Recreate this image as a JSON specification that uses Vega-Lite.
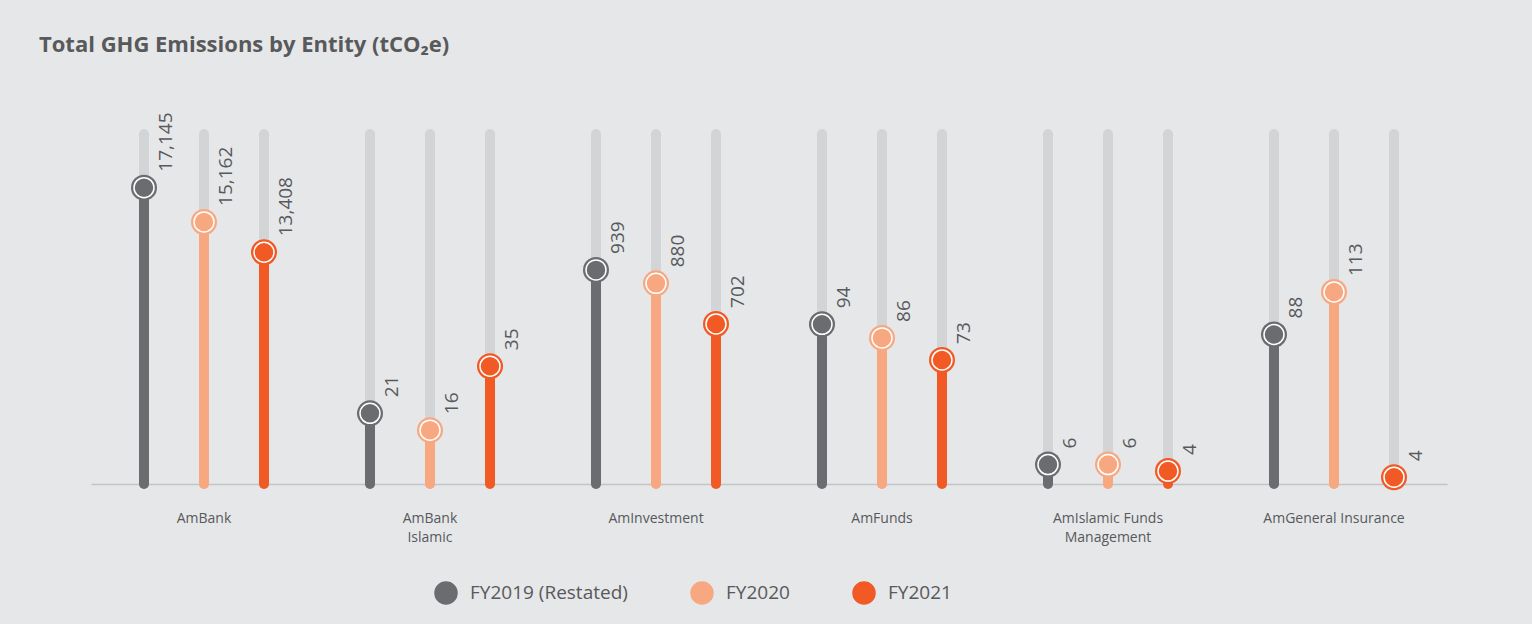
{
  "$schema": "https://vega.github.io/schema/vega-lite/v6.json",
  "autosize": "none",
  "width": 1356,
  "height": 350,
  "padding": {"left": 91, "right": 85, "top": 134, "bottom": 140},
  "background": "#e6e7e9",
  "title": {
    "text": "Total GHG Emissions by Entity (tCO₂e)",
    "anchor": "start",
    "frame": "group",
    "dx": -52,
    "offset": 38,
    "baseline": "alphabetic",
    "font": "Open Sans",
    "fontSize": 22,
    "fontWeight": "bold",
    "color": "#58595b"
  },
  "data": {
    "values": [
      {"entity": "AmBank", "year": "FY2019 (Restated)", "value": 17145},
      {"entity": "AmBank", "year": "FY2020", "value": 15162},
      {"entity": "AmBank", "year": "FY2021", "value": 13408},
      {"entity": "AmBank Islamic", "year": "FY2019 (Restated)", "value": 21},
      {"entity": "AmBank Islamic", "year": "FY2020", "value": 16},
      {"entity": "AmBank Islamic", "year": "FY2021", "value": 35},
      {"entity": "AmInvestment", "year": "FY2019 (Restated)", "value": 939},
      {"entity": "AmInvestment", "year": "FY2020", "value": 880},
      {"entity": "AmInvestment", "year": "FY2021", "value": 702},
      {"entity": "AmFunds", "year": "FY2019 (Restated)", "value": 94},
      {"entity": "AmFunds", "year": "FY2020", "value": 86},
      {"entity": "AmFunds", "year": "FY2021", "value": 73},
      {"entity": "AmIslamic Funds Management", "year": "FY2019 (Restated)", "value": 6},
      {"entity": "AmIslamic Funds Management", "year": "FY2020", "value": 6},
      {"entity": "AmIslamic Funds Management", "year": "FY2021", "value": 4},
      {"entity": "AmGeneral Insurance", "year": "FY2019 (Restated)", "value": 88},
      {"entity": "AmGeneral Insurance", "year": "FY2020", "value": 113},
      {"entity": "AmGeneral Insurance", "year": "FY2021", "value": 4}
    ]
  },
  "encoding": {
    "x": {
      "field": "entity",
      "type": "nominal",
      "sort": ["AmBank", "AmBank Islamic", "AmInvestment", "AmFunds", "AmIslamic Funds Management", "AmGeneral Insurance"],
      "scale": {"paddingInner": 0, "paddingOuter": 0},
      "axis": {
        "title": null,
        "labelAngle": 0,
        "labelExpr": "datum.label === 'AmBank Islamic' ? ['AmBank', 'Islamic'] : datum.label === 'AmIslamic Funds Management' ? ['AmIslamic Funds', 'Management'] : datum.label"
      }
    },
    "xOffset": {
      "field": "year",
      "type": "nominal",
      "sort": ["FY2019 (Restated)", "FY2020", "FY2021"],
      "scale": {"paddingInner": 0, "paddingOuter": 0.3833}
    },
    "color": {
      "field": "year",
      "type": "nominal",
      "sort": ["FY2019 (Restated)", "FY2020", "FY2021"],
      "scale": {"domain": ["FY2019 (Restated)", "FY2020", "FY2021"], "range": ["#6b6c6f", "#f8a880", "#f15a24"]},
      "legend": {
        "title": null, "orient": "none", "legendX": 343, "legendY": 447, "direction": "horizontal",
        "symbolType": "circle", "symbolSize": 484, "symbolOpacity": 1, "symbolStrokeColor": "white", "symbolStrokeWidth": 1.5,
        "labelFont": "Open Sans", "labelFontSize": 19, "labelColor": "#58595b", "labelOffset": 12,
        "columnPadding": 60, "padding": 0,
        "encode": {"symbols": {"update": {
          "fill": {"scale": "color", "field": "value"},
          "stroke": {"value": "white"},
          "strokeWidth": {"value": 1.5},
          "opacity": {"value": 1}
        }}}
      }
    }
  },
  "resolve": {"scale": {"y": "independent"}},
  "layer": [
    {
      "transform": [{"filter": "datum.entity === 'AmBank'"}],
      "encoding": {"y": {"field": "value", "type": "quantitative", "scale": {"domain": [0, 20250], "nice": false}, "axis": null}},
      "layer": [
        {"mark": {"type": "rule", "strokeWidth": 10, "strokeCap": "round"}, "encoding": {"y": {"datum": 0}, "y2": {"datum": 20250}, "color": {"value": "#d3d4d6"}}},
        {"mark": {"type": "rule", "strokeWidth": 10, "strokeCap": "round"}, "encoding": {"y2": {"datum": 0}}},
        {"mark": {"type": "point", "shape": "circle", "filled": true, "size": 676, "opacity": 1}},
        {"mark": {"type": "point", "shape": "circle", "filled": true, "size": 400, "opacity": 1, "stroke": "white", "strokeWidth": 1.5}},
        {"mark": {"type": "text", "angle": 270, "align": "left", "baseline": "alphabetic", "dx": 16, "dy": 28, "font": "Open Sans", "fontSize": 19},
         "encoding": {"text": {"field": "value", "type": "quantitative", "format": ","}, "color": {"value": "#58595b"}}}
      ]
    },
    {
      "transform": [{"filter": "datum.entity === 'AmBank Islamic'"}],
      "encoding": {"y": {"field": "value", "type": "quantitative", "scale": {"domain": [0, 104], "nice": false}, "axis": null}},
      "layer": [
        {"mark": {"type": "rule", "strokeWidth": 10, "strokeCap": "round"}, "encoding": {"y": {"datum": 0}, "y2": {"datum": 104}, "color": {"value": "#d3d4d6"}}},
        {"mark": {"type": "rule", "strokeWidth": 10, "strokeCap": "round"}, "encoding": {"y2": {"datum": 0}}},
        {"mark": {"type": "point", "shape": "circle", "filled": true, "size": 676, "opacity": 1}},
        {"mark": {"type": "point", "shape": "circle", "filled": true, "size": 400, "opacity": 1, "stroke": "white", "strokeWidth": 1.5}},
        {"mark": {"type": "text", "angle": 270, "align": "left", "baseline": "alphabetic", "dx": 16, "dy": 28, "font": "Open Sans", "fontSize": 19},
         "encoding": {"text": {"field": "value", "type": "quantitative", "format": ","}, "color": {"value": "#58595b"}}}
      ]
    },
    {
      "transform": [{"filter": "datum.entity === 'AmInvestment'"}],
      "encoding": {"y": {"field": "value", "type": "quantitative", "scale": {"domain": [0, 1535], "nice": false}, "axis": null}},
      "layer": [
        {"mark": {"type": "rule", "strokeWidth": 10, "strokeCap": "round"}, "encoding": {"y": {"datum": 0}, "y2": {"datum": 1535}, "color": {"value": "#d3d4d6"}}},
        {"mark": {"type": "rule", "strokeWidth": 10, "strokeCap": "round"}, "encoding": {"y2": {"datum": 0}}},
        {"mark": {"type": "point", "shape": "circle", "filled": true, "size": 676, "opacity": 1}},
        {"mark": {"type": "point", "shape": "circle", "filled": true, "size": 400, "opacity": 1, "stroke": "white", "strokeWidth": 1.5}},
        {"mark": {"type": "text", "angle": 270, "align": "left", "baseline": "alphabetic", "dx": 16, "dy": 28, "font": "Open Sans", "fontSize": 19},
         "encoding": {"text": {"field": "value", "type": "quantitative", "format": ","}, "color": {"value": "#58595b"}}}
      ]
    },
    {
      "transform": [{"filter": "datum.entity === 'AmFunds'"}],
      "encoding": {"y": {"field": "value", "type": "quantitative", "scale": {"domain": [0, 206], "nice": false}, "axis": null}},
      "layer": [
        {"mark": {"type": "rule", "strokeWidth": 10, "strokeCap": "round"}, "encoding": {"y": {"datum": 0}, "y2": {"datum": 206}, "color": {"value": "#d3d4d6"}}},
        {"mark": {"type": "rule", "strokeWidth": 10, "strokeCap": "round"}, "encoding": {"y2": {"datum": 0}}},
        {"mark": {"type": "point", "shape": "circle", "filled": true, "size": 676, "opacity": 1}},
        {"mark": {"type": "point", "shape": "circle", "filled": true, "size": 400, "opacity": 1, "stroke": "white", "strokeWidth": 1.5}},
        {"mark": {"type": "text", "angle": 270, "align": "left", "baseline": "alphabetic", "dx": 16, "dy": 28, "font": "Open Sans", "fontSize": 19},
         "encoding": {"text": {"field": "value", "type": "quantitative", "format": ","}, "color": {"value": "#58595b"}}}
      ]
    },
    {
      "transform": [{"filter": "datum.entity === 'AmIslamic Funds Management'"}],
      "encoding": {"y": {"field": "value", "type": "quantitative", "scale": {"domain": [0, 108], "nice": false}, "axis": null}},
      "layer": [
        {"mark": {"type": "rule", "strokeWidth": 10, "strokeCap": "round"}, "encoding": {"y": {"datum": 0}, "y2": {"datum": 108}, "color": {"value": "#d3d4d6"}}},
        {"mark": {"type": "rule", "strokeWidth": 10, "strokeCap": "round"}, "encoding": {"y2": {"datum": 0}}},
        {"mark": {"type": "point", "shape": "circle", "filled": true, "size": 676, "opacity": 1}},
        {"mark": {"type": "point", "shape": "circle", "filled": true, "size": 400, "opacity": 1, "stroke": "white", "strokeWidth": 1.5}},
        {"mark": {"type": "text", "angle": 270, "align": "left", "baseline": "alphabetic", "dx": 16, "dy": 28, "font": "Open Sans", "fontSize": 19},
         "encoding": {"text": {"field": "value", "type": "quantitative", "format": ","}, "color": {"value": "#58595b"}}}
      ]
    },
    {
      "transform": [{"filter": "datum.entity === 'AmGeneral Insurance'"}],
      "encoding": {"y": {"field": "value", "type": "quantitative", "scale": {"domain": [0, 206], "nice": false}, "axis": null}},
      "layer": [
        {"mark": {"type": "rule", "strokeWidth": 10, "strokeCap": "round"}, "encoding": {"y": {"datum": 0}, "y2": {"datum": 206}, "color": {"value": "#d3d4d6"}}},
        {"mark": {"type": "rule", "strokeWidth": 10, "strokeCap": "round"}, "encoding": {"y2": {"datum": 0}}},
        {"mark": {"type": "point", "shape": "circle", "filled": true, "size": 676, "opacity": 1}},
        {"mark": {"type": "point", "shape": "circle", "filled": true, "size": 400, "opacity": 1, "stroke": "white", "strokeWidth": 1.5}},
        {"mark": {"type": "text", "angle": 270, "align": "left", "baseline": "alphabetic", "dx": 16, "dy": 28, "font": "Open Sans", "fontSize": 19},
         "encoding": {"text": {"field": "value", "type": "quantitative", "format": ","}, "color": {"value": "#58595b"}}}
      ]
    }
  ],
  "config": {
    "view": {"stroke": null},
    "font": "Open Sans",
    "axisX": {
      "domainColor": "#c4c4c6",
      "domainWidth": 1.5,
      "ticks": false,
      "tickSize": 0,
      "grid": false,
      "labelPadding": 27,
      "labelFont": "Open Sans",
      "labelFontSize": 14,
      "labelColor": "#58595b",
      "labelLineHeight": 19
    }
  }
}
